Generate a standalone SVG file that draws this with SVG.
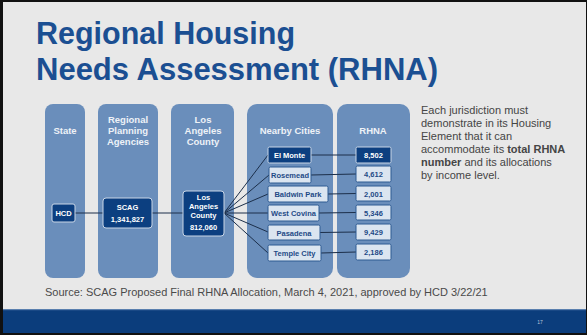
<svg xmlns="http://www.w3.org/2000/svg" width="587" height="335" viewBox="0 0 587 335">
<style>
.col{fill:#6a8ebb}
.hdr{font-family:"Liberation Sans",Arial,sans-serif;font-weight:bold;font-size:9.5px;fill:#eef2f7;text-anchor:middle}
.dbox{fill:#0c3f80;stroke:#c9d6e6;stroke-width:1}
.lbox{fill:#dbe5f0;stroke:#2d5a92;stroke-width:1}
.dt{font-family:"Liberation Sans",Arial,sans-serif;font-weight:bold;font-size:7.5px;fill:#ffffff;text-anchor:middle}
.lt{font-family:"Liberation Sans",Arial,sans-serif;font-weight:bold;font-size:7.5px;fill:#1e4a86;text-anchor:middle}
.ln{stroke:#1c2f4a;stroke-width:1;fill:none}
.title{font-family:"Liberation Sans",Arial,sans-serif;font-weight:bold;font-size:30.5px;fill:#1b4f92}
.body{font-family:"Liberation Sans",Arial,sans-serif;font-size:11px;fill:#454545}
</style>
<rect x="0" y="0" width="587" height="335" fill="#111"/>
<rect x="3" y="2" width="583" height="331" fill="#e8e8e8"/>
<rect x="3" y="310" width="583" height="23" fill="#0b3d7c"/>
<rect x="3" y="309" width="583" height="1.2" fill="#5a7fae"/>
<text x="540" y="324" font-family="Liberation Sans,Arial,sans-serif" font-size="5" fill="#b8c6da" text-anchor="middle">17</text>

<g id="title">
<text class="title" x="36" y="44" textLength="259" lengthAdjust="spacingAndGlyphs">Regional Housing</text>
<text class="title" x="36" y="80" textLength="402" lengthAdjust="spacingAndGlyphs">Needs Assessment (RHNA)</text>
</g>

<g id="columns">
<rect class="col" x="45" y="104" width="40" height="174" rx="8"/>
<rect class="col" x="98" y="104" width="60" height="174" rx="8"/>
<rect class="col" x="171" y="104" width="63" height="174" rx="8"/>
<rect class="col" x="247" y="104" width="86" height="174" rx="10"/>
<rect class="col" x="337" y="104" width="73" height="174" rx="10"/>
<text class="hdr" x="65" y="134">State</text>
<text class="hdr" x="128" y="123">Regional</text>
<text class="hdr" x="128" y="134">Planning</text>
<text class="hdr" x="128" y="145">Agencies</text>
<text class="hdr" x="203" y="123">Los</text>
<text class="hdr" x="203" y="134">Angeles</text>
<text class="hdr" x="203" y="145">County</text>
<text class="hdr" x="290" y="134">Nearby Cities</text>
<text class="hdr" x="373" y="134">RHNA</text>
</g>

<g id="connectors">
<line class="ln" x1="75" y1="213" x2="103" y2="213"/>
<line class="ln" x1="152" y1="213" x2="183" y2="213"/>
<line class="ln" x1="224" y1="213" x2="268" y2="155"/>
<line class="ln" x1="224" y1="213" x2="269" y2="175"/>
<line class="ln" x1="224" y1="213" x2="268" y2="194"/>
<line class="ln" x1="224" y1="213" x2="268" y2="213"/>
<line class="ln" x1="224" y1="213" x2="268" y2="232"/>
<line class="ln" x1="224" y1="213" x2="268" y2="253"/>
<line class="ln" x1="311" y1="155" x2="356" y2="155"/>
<line class="ln" x1="311" y1="175" x2="356" y2="174"/>
<line class="ln" x1="328" y1="194" x2="356" y2="193.5"/>
<line class="ln" x1="319" y1="213" x2="356" y2="212.5"/>
<line class="ln" x1="320" y1="232.5" x2="356" y2="232"/>
<line class="ln" x1="321" y1="253" x2="356" y2="252"/>
</g>

<g id="hcd"><rect class="dbox" x="52" y="204" width="23" height="18" rx="2"/><text class="dt" x="63.5" y="216">HCD</text></g>
<g id="scag"><rect class="dbox" x="103" y="198" width="49" height="30" rx="3"/><text class="dt" x="127.5" y="210">SCAG</text><text class="dt" x="127.5" y="222">1,341,827</text></g>
<g id="la"><rect class="dbox" x="183" y="191" width="41" height="45" rx="3"/><text class="dt" x="203.5" y="200">Los</text><text class="dt" x="203.5" y="209">Angeles</text><text class="dt" x="203.5" y="218">County</text><text class="dt" x="203.5" y="230">812,060</text></g>

<g id="elmonte"><rect class="dbox" x="268" y="147" width="43" height="16" rx="1.5" stroke="#e0e8f2"/><text class="dt" x="289.5" y="158">El Monte</text></g>
<g id="rosemead"><rect class="lbox" x="269" y="167" width="42" height="16" rx="1.5"/><text class="lt" x="290" y="178">Rosemead</text></g>
<g id="baldwin"><rect class="lbox" x="268" y="186" width="60" height="16" rx="1.5"/><text class="lt" x="298" y="197">Baldwin Park</text></g>
<g id="westcovina"><rect class="lbox" x="268" y="205" width="51" height="16" rx="1.5"/><text class="lt" x="293.5" y="216">West Covina</text></g>
<g id="pasadena"><rect class="lbox" x="268" y="225" width="52" height="15" rx="1.5"/><text class="lt" x="294" y="235.5">Pasadena</text></g>
<g id="templecity"><rect class="lbox" x="268" y="245" width="53" height="16" rx="1.5"/><text class="lt" x="294.5" y="256">Temple City</text></g>

<g id="r1"><rect class="dbox" x="356" y="147" width="35" height="16" rx="1.5" stroke="#e0e8f2"/><text class="dt" x="373.5" y="158">8,502</text></g>
<g id="r2"><rect class="lbox" x="356" y="166" width="35" height="16" rx="1.5"/><text class="lt" x="373.5" y="177">4,612</text></g>
<g id="r3"><rect class="lbox" x="356" y="186" width="35" height="15" rx="1.5"/><text class="lt" x="373.5" y="196.5">2,001</text></g>
<g id="r4"><rect class="lbox" x="356" y="205" width="35" height="15" rx="1.5"/><text class="lt" x="373.5" y="215.5">5,346</text></g>
<g id="r5"><rect class="lbox" x="356" y="224" width="35" height="16" rx="1.5"/><text class="lt" x="373.5" y="235">9,429</text></g>
<g id="r6"><rect class="lbox" x="356" y="244" width="35" height="16" rx="1.5"/><text class="lt" x="373.5" y="255">2,186</text></g>

<g id="note">
<text class="body" x="421" y="114">Each jurisdiction must</text>
<text class="body" x="421" y="127">demonstrate in its Housing</text>
<text class="body" x="421" y="140">Element that it can</text>
<text class="body" x="421" y="153">accommodate its <tspan font-weight="bold">total RHNA</tspan></text>
<text class="body" x="421" y="166"><tspan font-weight="bold">number</tspan> and its allocations</text>
<text class="body" x="421" y="179">by income level.</text>
</g>

<text x="45" y="296" font-family="Liberation Sans,Arial,sans-serif" font-size="11px" fill="#4a4a4a">Source: SCAG Proposed Final RHNA Allocation, March 4, 2021, approved by HCD 3/22/21</text>
</svg>
